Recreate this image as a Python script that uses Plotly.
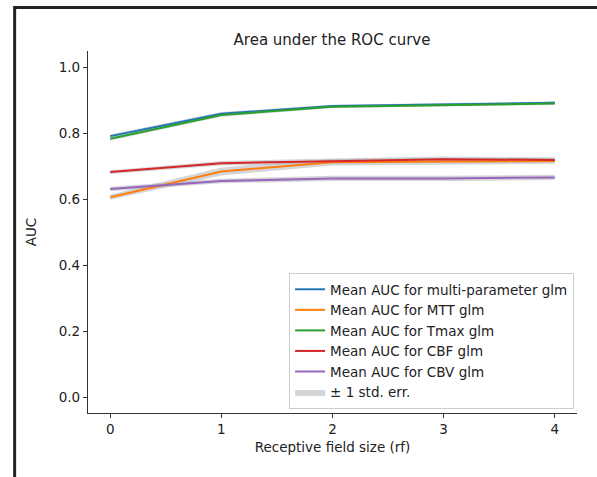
import plotly.graph_objects as go

rf = [0, 1, 2, 3, 4]
auc_multi = [0.792, 0.860, 0.883, 0.889, 0.893]
auc_mtt = [0.607, 0.685, 0.713, 0.716, 0.717]
auc_tmax = [0.784, 0.856, 0.881, 0.887, 0.891]
auc_cbf = [0.683, 0.710, 0.716, 0.722, 0.720]
auc_cbv = [0.632, 0.656, 0.664, 0.664, 0.667]

err_multi = [0.005, 0.005, 0.004, 0.004, 0.004]
err_mtt = [0.008, 0.012, 0.010, 0.010, 0.009]
err_tmax = [0.005, 0.005, 0.004, 0.004, 0.004]
err_cbf = [0.006, 0.007, 0.008, 0.008, 0.008]
err_cbv = [0.007, 0.007, 0.008, 0.008, 0.008]

names = ["Mean AUC for multi-parameter glm", "Mean AUC for MTT glm",
         "Mean AUC for Tmax glm", "Mean AUC for CBF glm", "Mean AUC for CBV glm"]
series = [auc_multi, auc_mtt, auc_tmax, auc_cbf, auc_cbv]
errors = [err_multi, err_mtt, err_tmax, err_cbf, err_cbv]
colors = ["#1f77b4", "#ff7f0e", "#2ca02c", "#d62728", "#9467bd"]
band_color = "rgba(170,172,178,0.5)"

fig = go.Figure()
for i, (name, y, e, c) in enumerate(zip(names, series, errors, colors)):
    fig.add_trace(go.Scatter(x=rf, y=[a + b for a, b in zip(y, e)], mode="lines",
                             line=dict(width=0), showlegend=False, hoverinfo="skip"))
    fig.add_trace(go.Scatter(x=rf, y=[a - b for a, b in zip(y, e)], mode="lines",
                             line=dict(width=0), fill="tonexty", fillcolor=band_color,
                             name="± 1 std. err.", showlegend=(i == 0), legendrank=1100,
                             hoverinfo="skip"))
for i, (name, y, c) in enumerate(zip(names, series, colors)):
    fig.add_trace(go.Scatter(x=rf, y=y, mode="lines", name=name,
                             line=dict(color=c, width=2), legendrank=1000 + i))

frame = dict(color="#222222", width=3)
fig.add_shape(type="line", xref="paper", yref="paper", x0=-0.150, x1=1.05, y0=1.120, y1=1.120, line=frame)
fig.add_shape(type="line", xref="paper", yref="paper", x0=-0.150, x1=-0.150, y0=1.124, y1=-0.20, line=frame)

fig.update_layout(
    width=597, height=477,
    margin=dict(l=88, r=20, t=51, b=64),
    paper_bgcolor="white", plot_bgcolor="white",
    font=dict(family="DejaVu Sans", size=13, color="#222222"),
    title=dict(text="Area under the ROC curve", x=332 / 597, xanchor="center",
               y=1 - 40 / 477, yanchor="middle", font=dict(size=15, color="#222222")),
    xaxis=dict(range=[-0.2, 4.2], tickvals=rf, ticktext=[str(v) for v in rf],
               showgrid=False, zeroline=False, showline=True, linecolor="#333333", linewidth=1.2,
               ticks="outside", ticklen=4, tickcolor="#333333", tickfont=dict(size=13.5),
               title=dict(text="Receptive field size (rf)", standoff=6, font=dict(size=13.5))),
    yaxis=dict(range=[-0.047, 1.05], tickvals=[0, 0.2, 0.4, 0.6, 0.8, 1.0],
               ticktext=["0.0", "0.2", "0.4", "0.6", "0.8", "1.0"],
               showgrid=False, zeroline=False, showline=True, linecolor="#333333", linewidth=1.2,
               ticks="outside", ticklen=4, tickcolor="#333333", tickfont=dict(size=13.5),
               title=dict(text="AUC", standoff=18, font=dict(size=13.5))),
    legend=dict(x=0.994, y=0.011, xanchor="right", yanchor="bottom", traceorder="normal",
                bgcolor="rgba(255,255,255,0.9)", bordercolor="#cccccc", borderwidth=1,
                font=dict(size=13.5, color="#222222"), tracegroupgap=0, itemwidth=30),
    showlegend=True,
)

fig.write_html("out.html", config={"displayModeBar": False},
               post_script="document.body.style.margin='0';document.body.style.overflow='hidden';")
